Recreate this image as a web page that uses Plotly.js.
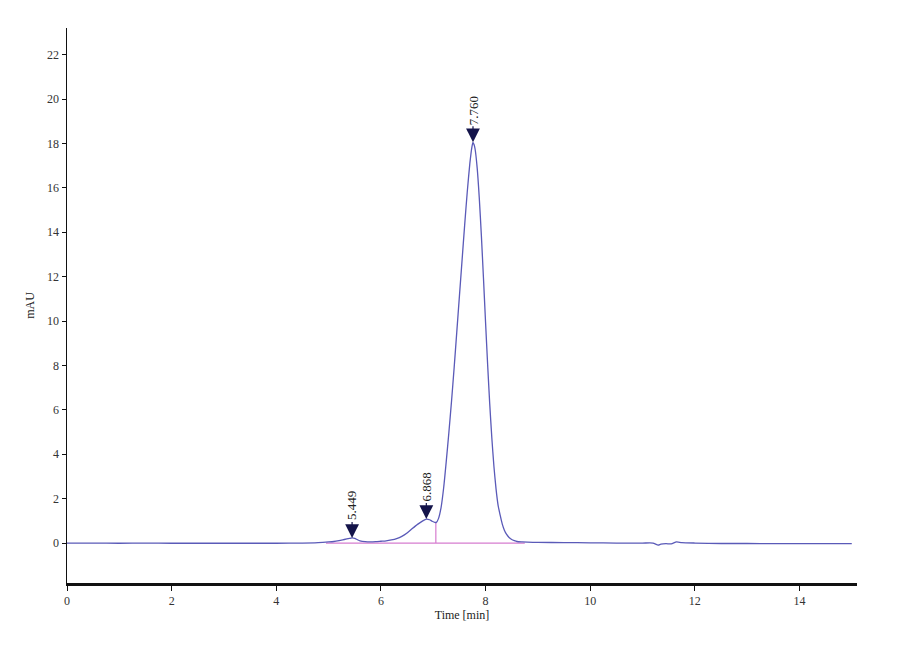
<!DOCTYPE html>
<html>
<head>
<meta charset="utf-8">
<script src="https://cdn.plot.ly/plotly-3.0.1.min.js"></script>
<style>html,body{margin:0;padding:0;background:#fff;}#chart{width:900px;height:660px;}</style>
</head>
<body>
<div id="chart"></div>
<script>
// Chromatogram signal (Time [min], mAU)
const timeMin = [
  0.0, 0.5, 1.0, 1.5, 2.0, 2.5, 3.0, 3.5, 4.0, 4.5, 4.8, 5.0, 5.1, 5.2, 5.3, 5.4, 5.45, 5.5, 5.55, 5.6,
  5.7, 5.8, 5.9, 6.0, 6.1, 6.2, 6.3, 6.4, 6.5, 6.6, 6.7, 6.8, 6.87, 6.93, 6.98, 7.03, 7.06, 7.10, 7.15, 7.20,
  7.25, 7.30, 7.35, 7.40, 7.45, 7.50, 7.55, 7.60, 7.65, 7.70, 7.74, 7.76, 7.78, 7.80, 7.84, 7.88, 7.92, 7.96, 8.00, 8.04,
  8.08, 8.12, 8.16, 8.20, 8.24, 8.28, 8.32, 8.36, 8.40, 8.45, 8.50, 8.55, 8.60, 8.70, 8.80, 9.0, 9.5, 10.0, 10.5, 11.0,
  11.2, 11.3, 11.35, 11.45, 11.55, 11.65, 11.75, 12.0, 12.5, 13.0, 13.5, 14.0, 14.5, 15.0
];
const signalMAU = [
  0.00, 0.00, -0.01, 0.00, -0.01, -0.01, -0.01, -0.01, -0.01, 0.00, 0.02, 0.05, 0.07, 0.11, 0.16, 0.21, 0.23, 0.21, 0.15, 0.10,
  0.06, 0.05, 0.06, 0.08, 0.10, 0.14, 0.20, 0.30, 0.45, 0.65, 0.84, 1.00, 1.08, 1.05, 0.98, 0.93, 0.93, 1.10, 1.60, 2.50,
  3.70, 5.00, 6.40, 7.90, 9.50, 11.10, 12.70, 14.30, 15.80, 17.10, 17.85, 18.05, 17.95, 17.75, 16.90, 15.56, 13.86, 11.95, 9.96, 8.03,
  6.27, 4.74, 3.46, 2.45, 1.70, 1.25, 0.85, 0.58, 0.40, 0.25, 0.16, 0.11, 0.07, 0.05, 0.04, 0.03, 0.02, 0.01, 0.00, 0.00,
  0.00, -0.09, -0.05, -0.03, -0.04, 0.05, 0.02, 0.00, -0.02, -0.02, -0.03, -0.03, -0.03, -0.03
];

// Integration baseline and drop line
const baselineTime = [4.95, 8.75];
const baselineMAU = [0, 0];
const dropTime = [7.05, 7.05];
const dropMAU = [0, 0.92];

// Peak labels
const peakTimes = [5.449, 6.868, 7.760];
const peakHeights = [0.23, 1.08, 18.05];
const peakLabels = ['5.449', '6.868', '7.760'];

const xTicks = [0, 2, 4, 6, 8, 10, 12, 14];
const yTicks = [0, 2, 4, 6, 8, 10, 12, 14, 16, 18, 20, 22];

const serif = 'Liberation Serif, Times New Roman, serif';

const traces = [
  {x: baselineTime, y: baselineMAU, type: 'scatter', mode: 'lines',
   line: {color: '#d67ccf', width: 1.2}, hoverinfo: 'skip'},
  {x: dropTime, y: dropMAU, type: 'scatter', mode: 'lines',
   line: {color: '#d67ccf', width: 1.2}, hoverinfo: 'skip'},
  {x: timeMin, y: signalMAU, type: 'scatter', mode: 'lines',
   line: {color: '#5a5ab8', width: 1.3, shape: 'spline', smoothing: 0.6}}
];

const annotations = peakTimes.map((t, i) => ({
  x: t, y: peakHeights[i], xref: 'x', yref: 'y',
  text: peakLabels[i], textangle: -90,
  showarrow: true, arrowhead: 2, arrowsize: 2.3, arrowwidth: 1.2,
  arrowcolor: '#14144a', standoff: 0,
  ax: 0, ay: -32,
  font: {family: serif, size: 13, color: '#222'}
}));

const layout = {
  width: 900, height: 660,
  margin: {l: 67, r: 43, t: 28, b: 77},
  paper_bgcolor: '#ffffff', plot_bgcolor: '#ffffff',
  showlegend: false,
  font: {family: serif, size: 11, color: '#333'},
  xaxis: {
    range: [0, 15.1], tickvals: xTicks, ticktext: xTicks.map(String),
    showgrid: false, zeroline: false,
    showline: true, linecolor: '#111', linewidth: 2.5,
    ticks: 'outside', ticklen: 5, tickwidth: 1, tickcolor: '#111',
    tickfont: {family: serif, size: 12, color: '#333'},
    title: {text: 'Time [min]', font: {family: serif, size: 12, color: '#222'}, standoff: 3}
  },
  yaxis: {
    range: [-1.8, 23.2], tickvals: yTicks, ticktext: yTicks.map(String),
    showgrid: false, zeroline: false,
    showline: true, linecolor: '#111', linewidth: 1.5,
    ticks: 'outside', ticklen: 4, tickwidth: 1, tickcolor: '#111',
    tickfont: {family: serif, size: 12, color: '#333'},
    title: {text: 'mAU', font: {family: serif, size: 12, color: '#222'}, standoff: 10}
  },
  annotations: annotations
};

Plotly.newPlot('chart', traces, layout, {displayModeBar: false, staticPlot: true});
</script>
</body>
</html>
